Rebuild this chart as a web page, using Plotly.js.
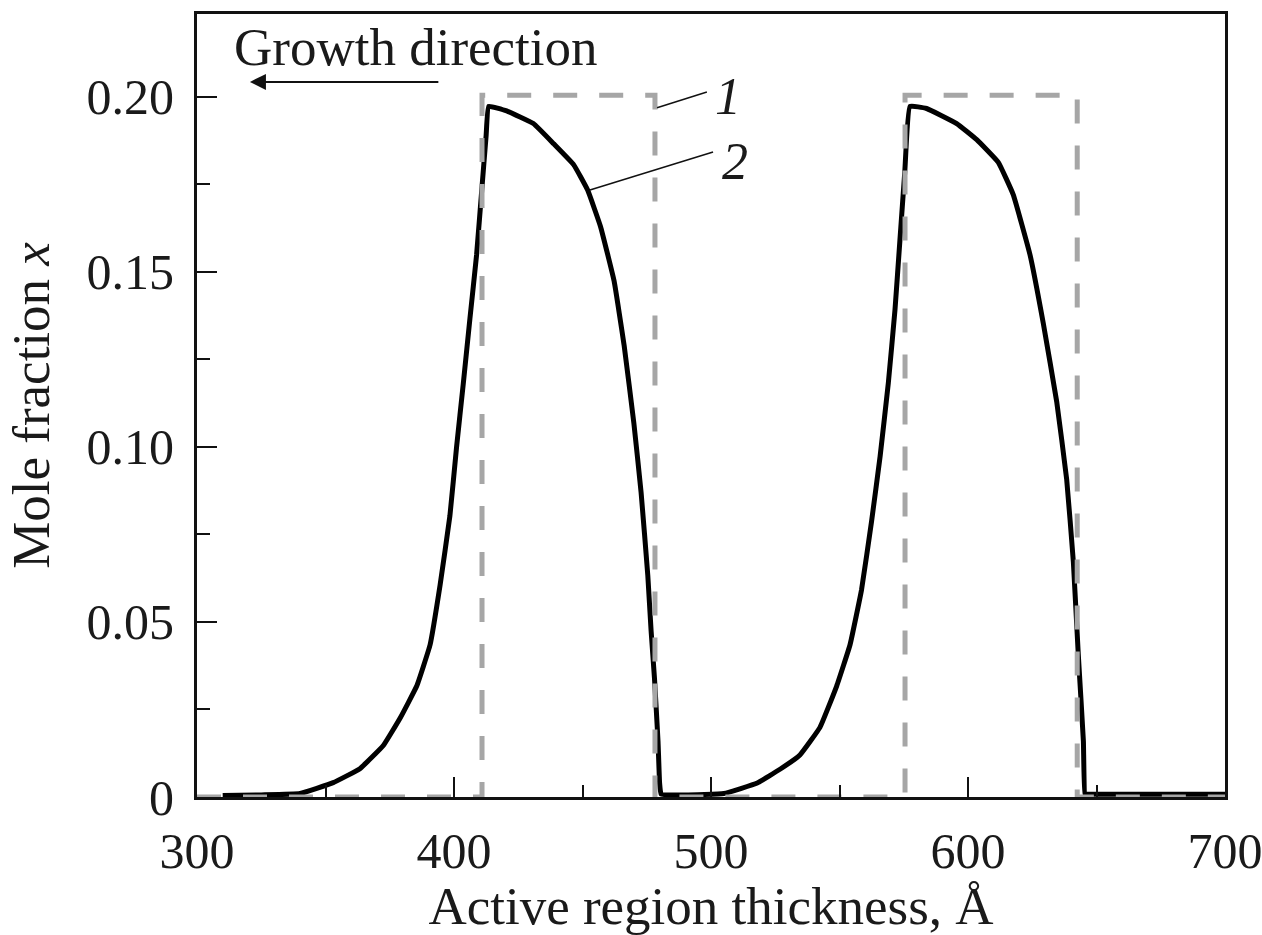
<!DOCTYPE html>
<html>
<head>
<meta charset="utf-8">
<script src="https://cdn.plot.ly/plotly-3.0.1.min.js"></script>
<style>html,body{margin:0;padding:0;background:#fff;}#chart{width:1262px;height:935px;}</style>
</head>
<body>
<div id="chart"></div>
<script>
// Curve 1: nominal (square) composition profile
const x1 = [300, 410.9, 410.9, 478.2, 478.2, 575.5, 575.5, 642.5, 642.5, 700];
const y1 = [0, 0, 0.2005, 0.2005, 0, 0, 0.2005, 0.2005, 0, 0];

// Curve 2: calculated (segregated) composition profile
const x2 = [310, 325, 340.1, 353, 363.4, 372.5, 379, 385.5, 390.7, 394.6, 398.4, 401, 403.6, 406.2, 408.8, 410.8, 412.5, 413.5,
            420.5, 430.9, 438.8, 446.6, 452, 457, 462.3, 466.2, 470, 472.8, 475.4, 476.7, 478, 479.4, 480, 480.6,
            490, 505, 518, 527, 534.6, 542.4, 548.9, 554.1, 558.6, 562.5, 565.8, 569, 571.6, 573.5, 575.4, 577.4,
            583.9, 595.6, 603.4, 611.8, 617.6, 624.1, 629.3, 634.5, 638.4, 641, 642.9, 644.9, 645.5, 646.5, 670, 700];
const y2 = [0.0004, 0.0006, 0.0010, 0.0041, 0.0081, 0.0147, 0.0225, 0.0317, 0.0435, 0.0606, 0.0803, 0.100, 0.118, 0.1367, 0.155, 0.1734, 0.189, 0.1973,
            0.1960, 0.1924, 0.1866, 0.1806, 0.1734, 0.163, 0.1474, 0.129, 0.1067, 0.087, 0.0634, 0.0474, 0.034, 0.0157, 0.004, 0.0008,
            0.0006, 0.0010, 0.0040, 0.0080, 0.0120, 0.0199, 0.0317, 0.0435, 0.0593, 0.0789, 0.0973, 0.1183, 0.1393, 0.1590, 0.1786, 0.1973,
            0.1967, 0.1924, 0.1878, 0.1813, 0.1721, 0.155, 0.1353, 0.113, 0.0907, 0.0671, 0.0409, 0.016, 0.0009, 0.0008, 0.0008, 0.0008];

// Axis ticks
const xTickVals = [300, 400, 500, 600, 700];
const xTickText = ["300", "400", "500", "600", "700"];
const yTickVals = [0, 0.05, 0.10, 0.15, 0.20];
const yTickText = ["0", "0.05", "0.10", "0.15", "0.20"];

const FONT = "Liberation Serif, Times New Roman, serif";
const INK = "#1a1a1a";

const traces = [
  {x: x2, y: y2, type: "scatter", mode: "lines", name: "2",
   line: {color: "#000000", width: 5, shape: "spline", smoothing: 0.3}},
  {x: x1, y: y1, type: "scatter", mode: "lines", name: "1",
   line: {color: "#a6a6a6", width: 5, dash: "24px,22px"}}
];

const layout = {
  width: 1262, height: 935,
  margin: {l: 197, r: 37, t: 14, b: 138},
  paper_bgcolor: "#ffffff", plot_bgcolor: "#ffffff",
  showlegend: false,
  font: {family: FONT, size: 50, color: INK},
  xaxis: {
    range: [300, 700], showgrid: false, zeroline: false,
    showline: true, linecolor: "#111", linewidth: 3, mirror: true,
    ticks: "inside", ticklen: 20, tickwidth: 2, tickcolor: "#111",
    tickvals: xTickVals, ticktext: xTickText,
    ticklabelstandoff: 8, ticklabeloverflow: "allow",
    minor: {ticks: "inside", ticklen: 12, tickwidth: 2, tickcolor: "#111", dtick: 50, showgrid: false},
    tickfont: {family: FONT, size: 50, color: INK},
    title: {text: "Active region thickness, Å", font: {family: FONT, size: 53, color: INK}, standoff: 10}
  },
  yaxis: {
    range: [0, 0.2237], showgrid: false, zeroline: false,
    showline: true, linecolor: "#111", linewidth: 3, mirror: true,
    ticks: "inside", ticklen: 20, tickwidth: 2, tickcolor: "#111",
    tickvals: yTickVals, ticktext: yTickText,
    ticklabelstandoff: 10,
    minor: {ticks: "inside", ticklen: 13, tickwidth: 2, tickcolor: "#111", dtick: 0.025, showgrid: false},
    tickfont: {family: FONT, size: 50, color: INK},
    title: {text: "Mole fraction <i>x</i>", font: {family: FONT, size: 53, color: INK}, standoff: 20}
  },
  shapes: [
    {type: "line", xref: "x", yref: "y", x0: 479, y0: 0.1969, x1: 498.4, y1: 0.2014, line: {color: "#111", width: 1.5}},
    {type: "line", xref: "x", yref: "y", x0: 452.9, y0: 0.1734, x1: 500.8, y1: 0.1843, line: {color: "#111", width: 1.5}}
  ],
  annotations: [
    {x: 385.2, y: 0.2143, xref: "x", yref: "y", text: "Growth direction", showarrow: false,
     font: {family: FONT, size: 53, color: INK}},
    {x: 320.6, y: 0.2043, xref: "x", yref: "y", ax: 394.5, ay: 0.2043, axref: "x", ayref: "y",
     text: "", showarrow: true, arrowhead: 2, arrowsize: 1.6, arrowwidth: 2, arrowcolor: "#111", standoff: 0},
    {x: 506.5, y: 0.2, xref: "x", yref: "y", text: "<i>1</i>", showarrow: false,
     font: {family: FONT, size: 52, color: INK}},
    {x: 509.5, y: 0.1815, xref: "x", yref: "y", text: "<i>2</i>", showarrow: false,
     font: {family: FONT, size: 52, color: INK}}
  ]
};

Plotly.newPlot("chart", traces, layout, {staticPlot: true, displayModeBar: false});
</script>
</body>
</html>
